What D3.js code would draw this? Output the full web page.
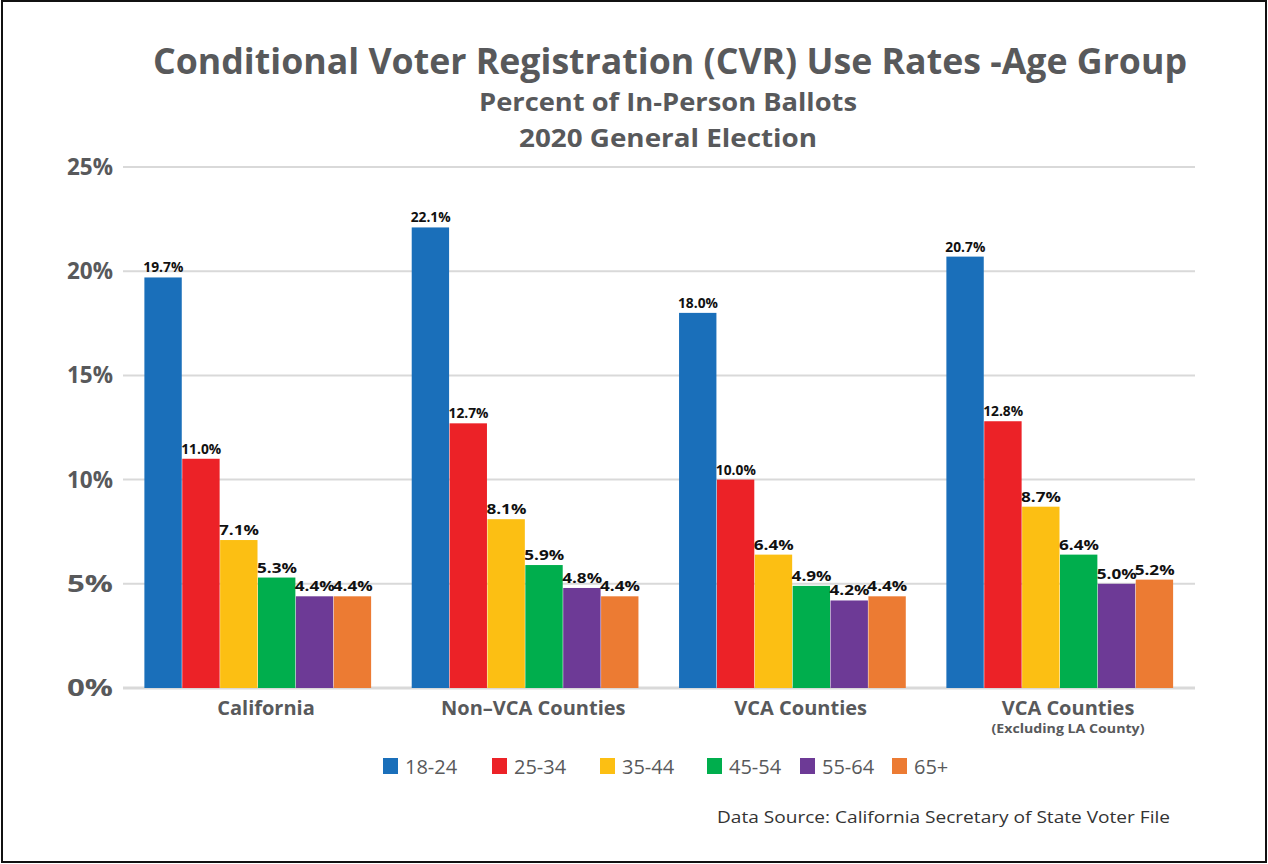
<!DOCTYPE html>
<html>
<head>
<meta charset="utf-8">
<script src="https://cdn.jsdelivr.net/npm/d3@7"></script>
<style>
  body { margin: 0; background: #fff; }
  svg { display: block; font-family: "Open Sans", sans-serif; }
</style>
</head>
<body>
<script>
// data
var regions = ["California", "Non\u2013VCA Counties", "VCA Counties", "VCA Counties"];
var regionNotes = ["", "", "", "(Excluding LA County)"];
var ageGroups = ["18-24", "25-34", "35-44", "45-54", "55-64", "65+"];
var rates = [
  [19.7, 11.0, 7.1, 5.3, 4.4, 4.4],
  [22.1, 12.7, 8.1, 5.9, 4.8, 4.4],
  [18.0, 10.0, 6.4, 4.9, 4.2, 4.4],
  [20.7, 12.8, 8.7, 6.4, 5.0, 5.2]
];
var yTicks = [0, 5, 10, 15, 20, 25];
var colors = ["#1a6fba", "#ec2227", "#fcbf13", "#00ae4d", "#6d3a96", "#ec7b33"];

var W = 1268, H = 864;
var grey = "#58595b";

var svg = d3.select("body").append("svg")
    .attr("width", W)
    .attr("height", H);

svg.append("rect")
    .attr("x", 2).attr("y", 1)
    .attr("width", W - 4).attr("height", H - 3)
    .attr("fill", "#fff")
    .attr("stroke", "#111")
    .attr("stroke-width", 2);

// titles - condensed look via textLength
function title(txt, x, y, size, len) {
  svg.append("text")
    .attr("x", x).attr("y", y)
    .attr("text-anchor", "middle")
    .attr("font-size", size)
    .attr("font-weight", "bold")
    .attr("fill", grey)
    .attr("textLength", len)
    .attr("lengthAdjust", "spacingAndGlyphs")
    .text(txt);
}
title("Conditional Voter Registration (CVR) Use Rates -Age Group", 670, 74, 36, 1034);
title("Percent of In-Person Ballots", 668, 111, 25, 378);
title("2020 General Election", 668, 147, 25, 298);

var x0 = d3.scaleBand()
    .domain(d3.range(regions.length))
    .range([123, 1195])
    .paddingInner(0.15)
    .paddingOuter(0.08);

var x1 = d3.scaleBand()
    .domain(ageGroups)
    .range([0, x0.bandwidth()]);

var y = d3.scaleLinear()
    .domain([0, 25])
    .range([688, 167]);

// gridlines
svg.append("g").selectAll("line")
    .data(yTicks)
  .enter().append("line")
    .attr("x1", 123).attr("x2", 1195)
    .attr("y1", d => y(d)).attr("y2", d => y(d))
    .attr("stroke", "#d9d9d9")
    .attr("stroke-width", d => d === 0 ? 3 : 2);

svg.append("g").selectAll("text")
    .data(yTicks)
  .enter().append("text")
    .attr("x", 113)
    .attr("y", d => y(d) + 8)
    .attr("text-anchor", "end")
    .attr("font-size", 24)
    .attr("font-weight", "bold")
    .attr("fill", grey)
    .attr("textLength", 46)
    .attr("lengthAdjust", "spacingAndGlyphs")
    .text(d => d + "%");

// bars
var groups = svg.append("g").selectAll("g")
    .data(rates)
  .enter().append("g")
    .attr("transform", (d, i) => "translate(" + x0(i) + ",0)");

groups.selectAll("rect")
    .data(d => d)
  .enter().append("rect")
    .attr("x", (d, j) => x1(ageGroups[j]))
    .attr("y", d => y(d))
    .attr("width", x1.bandwidth() - 0.5)
    .attr("height", d => y(0) - y(d))
    .attr("fill", (d, j) => colors[j]);

groups.selectAll("text")
    .data(d => d)
  .enter().append("text")
    .attr("x", (d, j) => x1(ageGroups[j]) + x1.bandwidth() / 2)
    .attr("y", d => y(d) - 5)
    .attr("text-anchor", "middle")
    .attr("font-size", 15)
    .attr("font-weight", "bold")
    .attr("fill", "#111")
    .attr("textLength", 40)
    .attr("lengthAdjust", "spacingAndGlyphs")
    .text(d => d.toFixed(1) + "%");

// category labels
var cats = svg.append("g").selectAll("g")
    .data(regions)
  .enter().append("g");

cats.append("text")
    .attr("x", (d, i) => x0(i) + x0.bandwidth() / 2 + 8)
    .attr("y", 715)
    .attr("text-anchor", "middle")
    .attr("font-size", 20)
    .attr("font-weight", "bold")
    .attr("fill", grey)
    .text(d => d);

cats.append("text")
    .attr("x", (d, i) => x0(i) + x0.bandwidth() / 2 + 8)
    .attr("y", 733)
    .attr("text-anchor", "middle")
    .attr("font-size", 13)
    .attr("font-weight", "bold")
    .attr("fill", grey)
    .text((d, i) => regionNotes[i])
    .each(function() {
      var w = this.getComputedTextLength();
      if (w > 0) d3.select(this).attr("textLength", 153).attr("lengthAdjust", "spacingAndGlyphs");
    });

// legend
var legendX = [383, 492, 600, 707, 800, 892];
var legend = svg.append("g").selectAll("g")
    .data(ageGroups)
  .enter().append("g")
    .attr("transform", (d, i) => "translate(" + legendX[i] + ",758)");

legend.append("rect")
    .attr("width", 15).attr("height", 16)
    .attr("fill", (d, i) => colors[i]);

legend.append("text")
    .attr("x", 22).attr("y", 16)
    .attr("font-size", 20)
    .attr("fill", grey)
    .text(d => d);

// source
svg.append("text")
    .attr("x", 1170).attr("y", 823)
    .attr("text-anchor", "end")
    .attr("font-size", 17)
    .attr("fill", "#333")
    .attr("textLength", 453)
    .attr("lengthAdjust", "spacingAndGlyphs")
    .text("Data Source: California Secretary of State Voter File");
</script>
</body>
</html>
